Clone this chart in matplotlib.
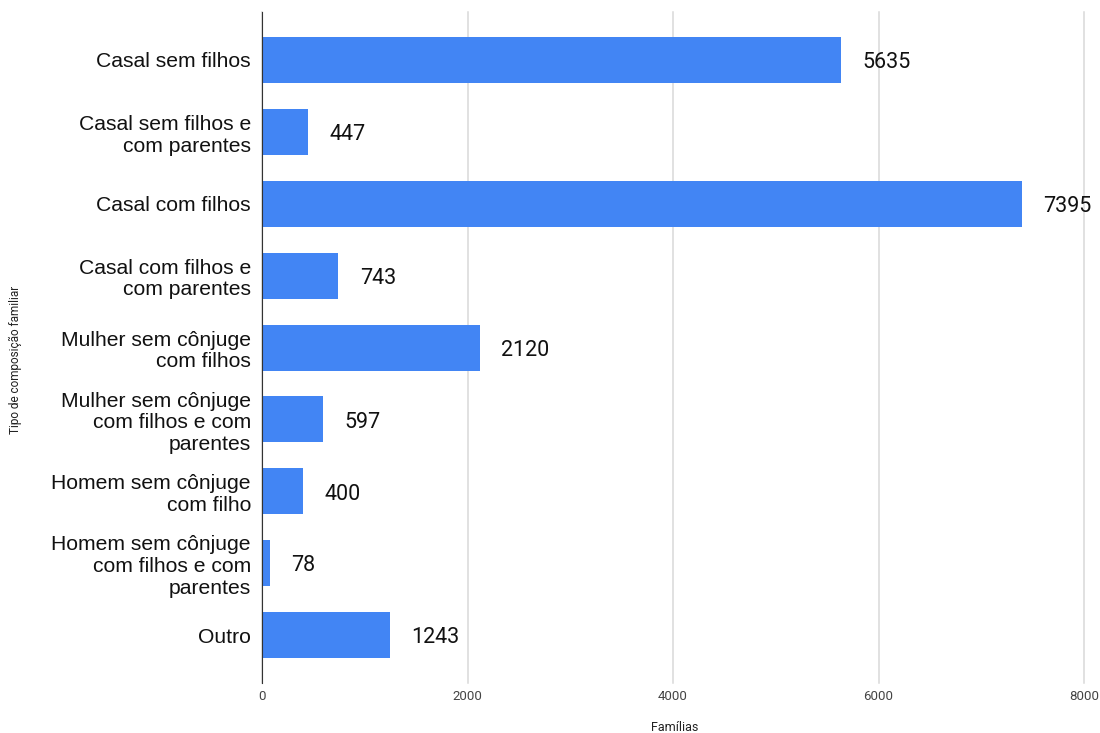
import matplotlib.pyplot as plt

# --- dane ---
kategorie = ["Casal sem filhos",
             "Casal sem filhos e\ncom parentes",
             "Casal com filhos",
             "Casal com filhos e\ncom parentes",
             "Mulher sem cônjuge\ncom filhos",
             "Mulher sem cônjuge\ncom filhos e com\nparentes",
             "Homem sem cônjuge\ncom filho",
             "Homem sem cônjuge\ncom filhos e com\nparentes",
             "Outro"]
familias = [5635, 447, 7395, 743, 2120, 597, 400, 78, 1243]
xticks = [0, 2000, 4000, 6000, 8000]

# --- wykres ---
fig = plt.figure(figsize=(11, 7.33), dpi=100)
ax = fig.add_axes([0.2382, 0.0682, 0.7473, 0.9154])

pozycje = list(range(len(kategorie)))
ax.barh(pozycje, familias, height=0.64, color="#4285F4", zorder=2)

for i in range(len(familias)):
    ax.annotate(str(familias[i]), (familias[i], i), xytext=(15.5, -2),
                textcoords="offset points", va="center", ha="left",
                fontsize=15.5, family="Roboto", color="#111111")

ax.set_xlim(0, 8000)
ax.set_ylim(len(kategorie) - 1 + 0.667, -0.667)
ax.set_xticks(xticks)
ax.set_xticklabels([str(t) for t in xticks], family="Roboto", fontsize=9.5, color="#444444")
ax.set_yticks(pozycje)
ax.set_yticklabels(kategorie, family="Liberation Sans", fontsize=15.2,
                   color="#111111", linespacing=1.18)
ax.tick_params(axis="y", length=0, pad=8)
ax.tick_params(axis="x", length=0, pad=5)

ax.grid(True, axis="x", color="#d9d9d9", linewidth=1.1, zorder=0)
for linia in ax.get_xgridlines():
    linia.set_clip_on(False)
for s in ["top", "right", "bottom"]:
    ax.spines[s].set_visible(False)
ax.spines["left"].set_color("#333333")
ax.spines["left"].set_zorder(3)

fig.text(0.6131, 0.008, "Famílias", ha="center", va="center",
         family="Roboto", fontsize=9, color="#222222")
fig.text(0.0136, 0.509, "Tipo de composição familiar", rotation=90, va="center",
         ha="center", family="Roboto", fontsize=8.5, color="#222222")

plt.savefig("out.png")
